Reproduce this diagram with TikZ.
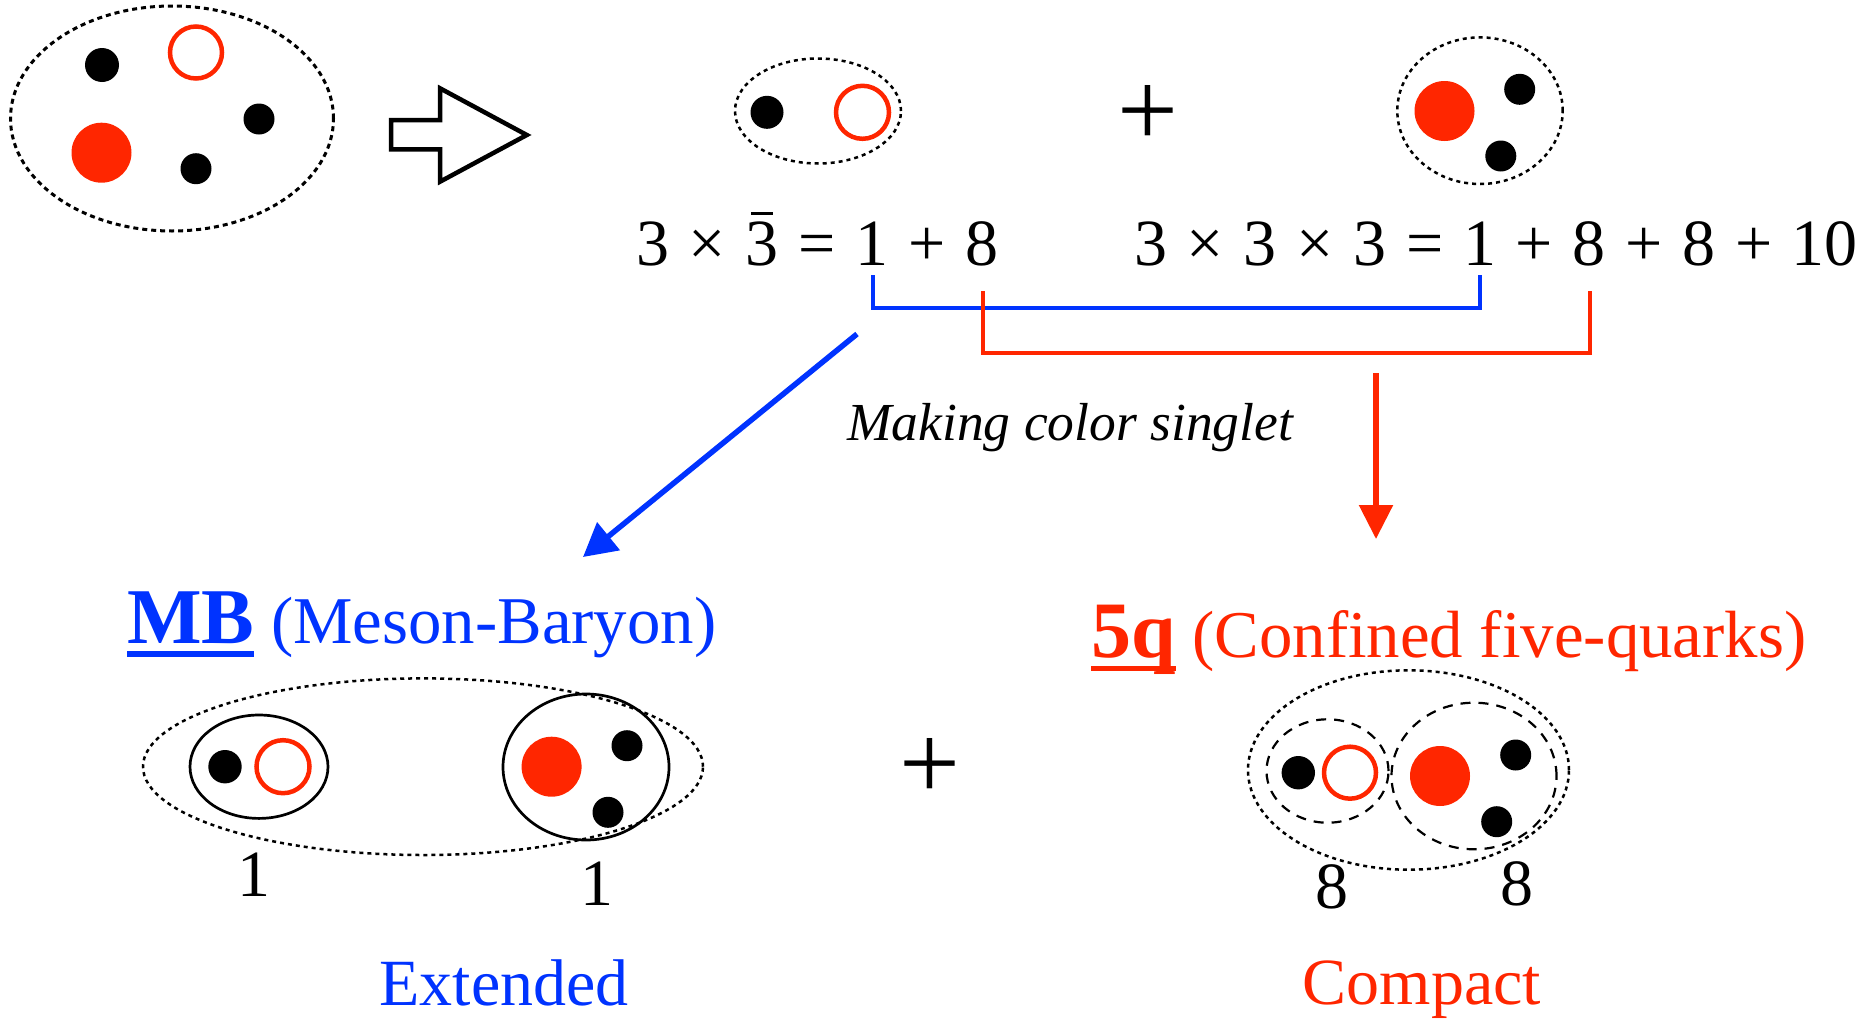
\documentclass[tikz,border=0pt]{standalone}
\usepackage{fontspec}
\setmainfont{Liberation Serif}
\usetikzlibrary{arrows.meta}
\definecolor{qred}{RGB}{255,38,0}
\definecolor{qblue}{RGB}{0,51,255}
\newcommand{\myul}[3]{\setbox0=\hbox{#3}\rlap{\rule[-#1]{\wd0}{#2}}\box0}
\newcommand{\qgap}{\hspace{19.7pt}}
\newcommand{\barthree}{\setbox0=\hbox{3}\rlap{\makebox[\wd0]{\rule[50.5pt]{22pt}{3pt}}}\box0}
\begin{document}
\begin{tikzpicture}[x=1pt,y=-1pt,
 dotbound/.style={draw=black, line width=2.5pt, dash pattern=on 4pt off 4pt},
 dashbound/.style={draw=black, line width=2.2pt, dash pattern=on 10pt off 8pt},
 solidbound/.style={draw=black, line width=2.7pt},
 bq/.style={fill=black},
 rq/.style={fill=qred},
 rqo/.style={draw=qred, line width=4.5pt},
 txt/.style={inner sep=0pt, font=\fontsize{66}{70}\selectfont},
 plussign/.style={inner sep=0pt, font=\fontsize{108}{110}\selectfont},
 bluebr/.style={draw=qblue, line width=4pt},
 redbr/.style={draw=qred, line width=4pt},
]
\useasboundingbox (0,0) rectangle (1866,1020);

% top-left cluster
\draw[dotbound, line width=3pt, dash pattern=on 5pt off 4pt] (172,118.5) ellipse [x radius=161.5pt, y radius=112.5pt];
\fill[bq] (102,65) circle[radius=17pt];
\draw[rqo] (196,52.5) circle[radius=26pt];
\fill[bq] (259,119) circle[radius=15.5pt];
\fill[rq] (101.5,152.7) circle[radius=30pt];
\fill[bq] (196,168.7) circle[radius=15.5pt];

% hollow arrow
\draw[line width=4.5pt, line join=miter] (391,120) -- (440,120) -- (440,88.3) -- (526.8,135) -- (440,181.7) -- (440,149.3) -- (391,149.3) -- cycle;

% top meson
\draw[dotbound] (818,111) ellipse [x radius=83pt, y radius=52.5pt];
\fill[bq] (767,112.3) circle[radius=16.5pt];
\draw[rqo] (862.5,112.3) circle[radius=26.5pt];

\node[plussign] (plusA) at (1147.8,115.7) {+};

% top baryon
\draw[dotbound] (1480,110.7) ellipse [x radius=82.7pt, y radius=73.3pt];
\fill[rq] (1444.5,111) circle[radius=30pt];
\fill[bq] (1519.7,89.3) circle[radius=15.5pt];
\fill[bq] (1500.8,156) circle[radius=15.5pt];

% equations
\node[txt, anchor=base west] (eqA) at (636,265) {3\qgap×\qgap\barthree\qgap=\qgap1\qgap+\qgap8};
\node[txt, anchor=base west] (eqB) at (1134,265) {3\qgap×\qgap3\qgap×\qgap3\qgap=\qgap1\qgap+\qgap8\qgap+\qgap8\qgap+\qgap10};

% brackets
\draw[bluebr] (872.8,275) -- (872.8,308) -- (1480,308) -- (1480,275);
\draw[redbr] (983,291) -- (983,352.5) -- (1590,352.5) -- (1590,291);

% arrows
\coordinate (bs) at (857,334);
\coordinate (be) at (583,557);
\coordinate (rs) at (1376,373);
\coordinate (re) at (1376,539);
\draw[qblue, line width=5.5pt, -{Triangle[length=33pt,width=35pt]}] (bs) -- (be);
\draw[qred, line width=5.5pt, -{Triangle[length=34pt,width=33pt]}] (rs) -- (re);

\node[inner sep=0pt, anchor=base west, font=\fontsize{53.5}{56}\selectfont\itshape] (mcs) at (847,440) {Making color singlet};

% headings
\node[inner sep=0pt, anchor=base west, text=qblue, font=\fontsize{66.8}{70}\selectfont] (mb) at (127,643) {{\fontsize{79}{80}\selectfont\myul{14pt}{6pt}{\textbf{MB}}} (Meson-Baryon)};
\node[inner sep=0pt, anchor=base west, text=qred, font=\fontsize{66.8}{70}\selectfont] (fq) at (1091,657) {{\fontsize{80}{80}\selectfont\myul{13.5pt}{5pt}{\textbf{5q}}} (Confined five-quarks)};

% bottom MB cluster
\draw[dotbound] (423,766.7) ellipse [x radius=280pt, y radius=88.3pt];
\draw[solidbound] (259,766.7) ellipse [x radius=69pt, y radius=51.7pt];
\fill[bq] (225,766.7) circle[radius=16.7pt];
\draw[rqo] (283,766.7) circle[radius=26.5pt];
\draw[solidbound] (586,767) ellipse [x radius=83pt, y radius=73pt];
\fill[rq] (551.6,766.7) circle[radius=30pt];
\fill[bq] (627,745.7) circle[radius=15.5pt];
\fill[bq] (608,812.3) circle[radius=15.5pt];
\node[txt, anchor=base] (oneA) at (254,896) {1};
\node[txt, anchor=base] (oneB) at (597,905) {1};

\node[plussign] (plusB) at (930,769) {+};

% bottom 5q cluster
\draw[dotbound] (1408.5,770) ellipse [x radius=160.5pt, y radius=99.7pt];
\draw[dashbound] (1327.5,771) ellipse [x radius=61pt, y radius=51.7pt];
\draw[dashbound] (1474,776) ellipse [x radius=82.5pt, y radius=73.3pt];
\fill[bq] (1298.3,772.7) circle[radius=16.7pt];
\draw[rqo] (1350,772.7) circle[radius=26pt];
\fill[rq] (1440,776) circle[radius=30pt];
\fill[bq] (1515.7,755) circle[radius=15.5pt];
\fill[bq] (1496.7,821.7) circle[radius=15.5pt];
\node[txt, anchor=base] (eightA) at (1331.6,908) {8};
\node[txt, anchor=base] (eightB) at (1517,905) {8};

\node[txt, anchor=base, text=qblue] (ext) at (504,1005) {Extended};
\node[txt, anchor=base, text=qred] (cmp) at (1422,1004) {Compact};
\end{tikzpicture}
\end{document}
